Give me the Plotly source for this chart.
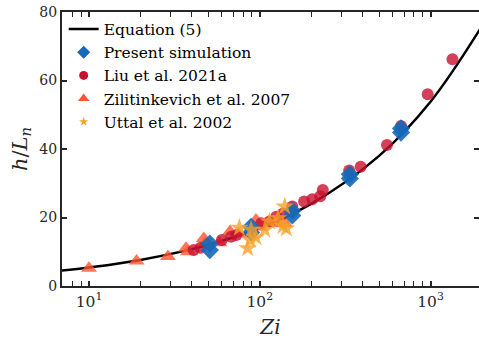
import plotly.graph_objects as go

# Equation (5) curve
eq_zi = [6.9, 10, 20, 50, 100, 200, 500, 1000, 1950]
eq_h = [4.5, 5.4, 7.6, 12.0, 17.0, 24.0, 38.0, 53.8, 75.0]

# Present simulation (diamonds)
sim_zi = [51, 51, 89, 89, 155, 155, 337, 337, 672, 672]
sim_h = [12.4, 10.5, 17.3, 15.6, 22.0, 20.6, 32.6, 31.4, 46.0, 44.8]

# Liu et al. 2021a (circles)
liu_zi = [41, 45, 60, 68, 73, 102, 114, 125, 137, 155, 182, 203, 226, 234, 334, 390, 556, 672, 963, 1345]
liu_h = [10.5, 11.2, 13.4, 14.4, 14.9, 18.3, 18.8, 20.2, 21.2, 23.2, 24.7, 25.3, 26.2, 28.0, 33.7, 34.8, 41.2, 46.7, 56.0, 66.2]

# Zilitinkevich et al. 2007 (triangles)
zil_zi = [10, 19, 29, 37, 38, 47, 48, 58, 67, 75, 95, 100, 125, 140]
zil_h = [5.2, 7.3, 8.6, 11.0, 10.0, 13.9, 12.5, 12.6, 15.9, 15.2, 19.3, 17.2, 18.2, 18.4]

# Uttal et al. 2002 (stars)
utt_zi = [76, 85, 88, 89, 95, 107, 114, 128, 137, 140, 143]
utt_h = [17.0, 11.0, 13.4, 16.4, 14.2, 16.4, 18.8, 19.8, 17.5, 23.2, 16.8]

x_tickvals = [10, 100, 1000]
x_ticktext = ["10<sup>1</sup>", "10<sup>2</sup>", "10<sup>3</sup>"]
x_minorvals = [2, 3, 4, 5, 6, 7, 8, 9, 20, 30, 40, 50, 60, 70, 80, 90,
               200, 300, 400, 500, 600, 700, 800, 900]

C_SIM = "#1668b8"
C_LIU = "#c8102e"
C_ZIL = "#ff5530"
C_UTT = "#f7a128"
OP = 0.8
SERIF = "DejaVu Serif"

fig = go.Figure()
fig.add_trace(go.Scatter(x=eq_zi, y=eq_h, mode="lines", line=dict(color="black", width=2.5, shape="spline", smoothing=1.0), showlegend=False))
fig.add_trace(go.Scatter(x=zil_zi, y=zil_h, mode="markers", marker=dict(symbol="triangle-up", size=14, color=C_ZIL, opacity=OP, line=dict(width=0)), showlegend=False))
fig.add_trace(go.Scatter(x=liu_zi, y=liu_h, mode="markers", marker=dict(symbol="circle", size=12, color=C_LIU, opacity=OP, line=dict(width=0)), showlegend=False))
fig.add_trace(go.Scatter(x=sim_zi, y=sim_h, mode="markers", marker=dict(symbol="diamond", size=14, color=C_SIM, opacity=0.9, line=dict(width=0)), showlegend=False))
fig.add_trace(go.Scatter(x=utt_zi, y=utt_h, mode="markers", marker=dict(symbol="star", size=14, color=C_UTT, opacity=OP, line=dict(width=0)), showlegend=False))

# legend entries
nan = [None]
fig.add_trace(go.Scatter(x=nan, y=nan, mode="lines", line=dict(color="black", width=2.5), name="Equation (5)"))
fig.add_trace(go.Scatter(x=nan, y=nan, mode="markers", marker=dict(symbol="diamond", size=10, color=C_SIM), name="Present simulation"))
fig.add_trace(go.Scatter(x=nan, y=nan, mode="markers", marker=dict(symbol="circle", size=9, color=C_LIU), name="Liu et al. 2021a"))
fig.add_trace(go.Scatter(x=nan, y=nan, mode="markers", marker=dict(symbol="triangle-up", size=10, color=C_ZIL), name="Zilitinkevich et al. 2007"))
fig.add_trace(go.Scatter(x=nan, y=nan, mode="markers", marker=dict(symbol="star", size=7, color=C_UTT), name="Uttal et al. 2002"))
# helper for right-side ticks
fig.add_trace(go.Scatter(x=nan, y=nan, yaxis="y2", showlegend=False))

axcol = "#262626"
fig.update_layout(
    width=479, height=344,
    margin=dict(l=62, r=0, t=12, b=58, autoexpand=False),
    plot_bgcolor="white", paper_bgcolor="white",
    font=dict(family=SERIF, size=14, color="#262626"),
    showlegend=True,
    legend=dict(x=0.004, y=0.998, xanchor="left", yanchor="top", bgcolor="rgba(0,0,0,0)",
                font=dict(family=SERIF, size=15.5, color="black"), tracegroupgap=0, itemwidth=30),
    xaxis=dict(type="log", range=[0.842, 3.284], showline=True, linecolor=axcol, linewidth=2, mirror="allticks",
               ticks="inside", ticklen=5, tickwidth=1.5, tickcolor=axcol,
               tickmode="array", tickvals=x_tickvals, ticktext=x_ticktext, tickfont=dict(size=15.5),
               showgrid=False, zeroline=False, automargin=False,
               minor=dict(ticks="inside", ticklen=3, tickwidth=1.2, tickcolor=axcol,
                          tickvals=x_minorvals, showgrid=False),
               title=dict(text="<i>Zi</i>", font=dict(family=SERIF, size=20), standoff=10)),
    yaxis=dict(range=[0, 80], showline=True, linecolor=axcol, linewidth=2, mirror=False,
               ticks="inside", ticklen=5, tickwidth=1.5, tickcolor=axcol, dtick=20,
               showgrid=False, zeroline=False, automargin=False,
               title=dict(text="<i>h</i>/<i>L<sub>n</sub></i>", font=dict(family=SERIF, size=21), standoff=6)),
    yaxis2=dict(range=[0, 80], overlaying="y", side="right", showline=False, ticks="inside", ticklen=5,
                tickwidth=1.5, tickcolor=axcol, dtick=20, showticklabels=False, showgrid=False,
                zeroline=False, automargin=False),
)

fig.write_html("out.html", config={"displayModeBar": False},
               post_script="document.body.style.margin='0';document.body.style.padding='0';")
